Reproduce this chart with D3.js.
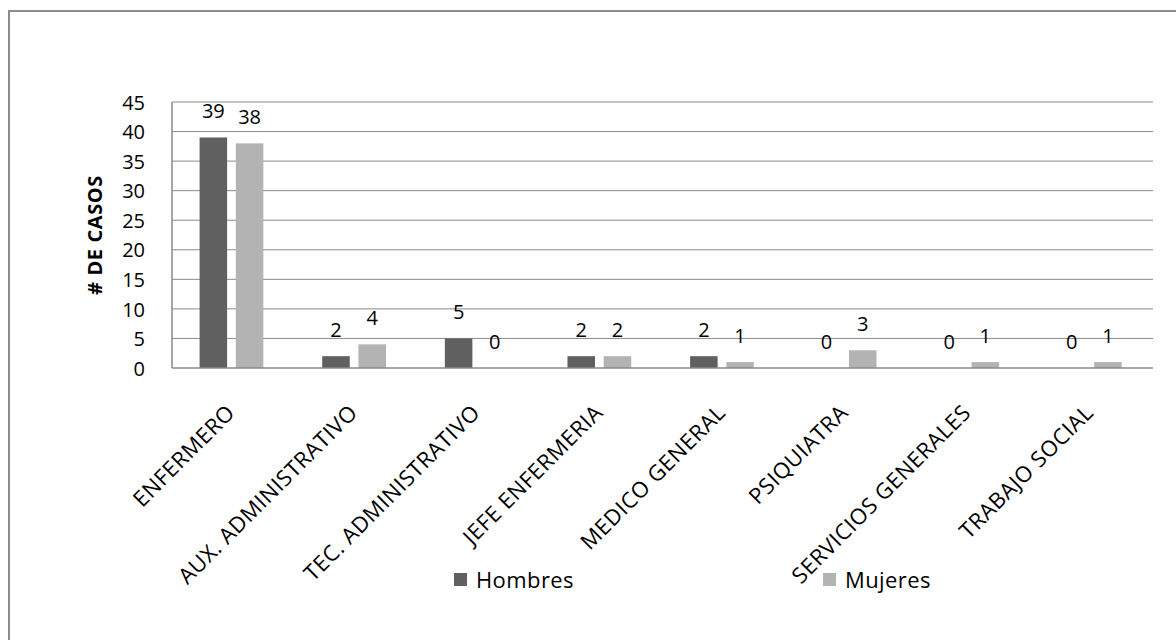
<!DOCTYPE html>
<html>
<head>
<meta charset="utf-8">
<script src="https://cdn.jsdelivr.net/npm/d3@7/dist/d3.min.js"></script>
<style>
  html, body { margin: 0; padding: 0; background: #fff; }
  svg { display: block; }
  text { font-family: "Open Sans", Lato, sans-serif; fill: #000; }
</style>
</head>
<body>
<svg id="chart" width="1176" height="640"></svg>
<script>
// Cargos del personal y número de casos por sexo
const categories = [
  "ENFERMERO",
  "AUX. ADMINISTRATIVO",
  "TEC. ADMINISTRATIVO",
  "JEFE ENFERMERIA",
  "MEDICO GENERAL",
  "PSIQUIATRA",
  "SERVICIOS GENERALES",
  "TRABAJO SOCIAL"
];
const hombres = [39, 2, 5, 2, 2, 0, 0, 0];
const mujeres = [38, 4, 0, 2, 1, 3, 1, 1];
const seriesNames = ["Hombres", "Mujeres"];
const seriesColors = ["#606060", "#b3b3b3"];
const yTicks = [0, 5, 10, 15, 20, 25, 30, 35, 40, 45];
const yTitle = "# DE CASOS";

const svg = d3.select("#chart");

// Marco exterior del gráfico
svg.append("rect")
  .attr("x", 9).attr("y", 11)
  .attr("width", 1200).attr("height", 700)
  .attr("fill", "#fff")
  .attr("stroke", "#8c8c8c")
  .attr("stroke-width", 2);

const plot = { left: 172, right: 1153, top: 102, bottom: 368 };

const x = d3.scaleBand()
  .domain(categories)
  .range([plot.left, plot.right])
  .paddingInner(0)
  .paddingOuter(0);

const y = d3.scaleLinear()
  .domain([0, 45])
  .range([plot.bottom, plot.top]);

// Posición de cada serie dentro de la categoría
const xSub = d3.scaleBand()
  .domain(seriesNames)
  .range([x.bandwidth() * 0.225, x.bandwidth() * 0.745])
  .paddingInner(0.24);

// Etiquetas del eje Y
const yAxis = d3.axisLeft(y).tickValues(yTicks).tickSize(0).tickPadding(27);
const gy = svg.append("g")
  .attr("transform", `translate(${plot.left},0)`)
  .call(yAxis);
gy.select(".domain").remove();
gy.selectAll("text")
  .style("font-size", "20px")
  .attr("dy", "0.36em");

// Líneas de cuadrícula
svg.append("g")
  .selectAll("line")
  .data(yTicks.filter(d => d > 0))
  .join("line")
  .attr("x1", plot.left).attr("x2", plot.right)
  .attr("y1", d => y(d)).attr("y2", d => y(d))
  .attr("stroke", "#8a8a8a")
  .attr("stroke-width", 1);

// Barras
const rows = categories.map((c, i) => ({ cat: c, values: [hombres[i], mujeres[i]] }));

const groups = svg.append("g")
  .selectAll("g")
  .data(rows)
  .join("g")
  .attr("transform", d => `translate(${x(d.cat)},0)`);

groups.selectAll("rect")
  .data(d => d.values.map((v, j) => ({ name: seriesNames[j], value: v, idx: j })))
  .join("rect")
  .attr("x", d => xSub(d.name))
  .attr("width", xSub.bandwidth())
  .attr("y", d => y(d.value))
  .attr("height", d => y(0) - y(d.value))
  .attr("fill", d => seriesColors[d.idx]);

// Etiquetas de valor
groups.selectAll("text.val")
  .data(d => d.values.map((v, j) => ({ name: seriesNames[j], value: v })))
  .join("text")
  .attr("class", "val")
  .attr("x", d => xSub(d.name) + xSub.bandwidth() / 2)
  .attr("y", d => y(d.value) - 19)
  .attr("text-anchor", "middle")
  .style("font-size", "20px")
  .text(d => d.value);

// Ejes
svg.append("line")
  .attr("x1", plot.left).attr("x2", plot.left)
  .attr("y1", plot.top).attr("y2", plot.bottom)
  .attr("stroke", "#8a8a8a").attr("stroke-width", 1.5);
svg.append("line")
  .attr("x1", plot.left).attr("x2", plot.right)
  .attr("y1", plot.bottom).attr("y2", plot.bottom)
  .attr("stroke", "#8a8a8a").attr("stroke-width", 1.5);

// Etiquetas de categoría giradas
const xAxis = d3.axisBottom(x).tickSize(0).tickPadding(0);
const gx = svg.append("g")
  .attr("transform", `translate(0,${plot.bottom})`)
  .call(xAxis);
gx.select(".domain").remove();
gx.selectAll("text")
  .style("font-size", "22px")
  .style("letter-spacing", "0.5px")
  .attr("text-anchor", "end")
  .attr("dy", null)
  .attr("y", 0)
  .attr("transform", "translate(3,46) rotate(-45)");

// Título del eje Y
svg.append("text")
  .attr("transform", `translate(102,${(plot.top + plot.bottom) / 2}) rotate(-90)`)
  .attr("text-anchor", "middle")
  .style("font-size", "20px")
  .style("letter-spacing", "0.6px")
  .style("font-weight", "bold")
  .text(yTitle);

// Leyenda
const legendPos = [454, 823];
const legend = svg.append("g")
  .selectAll("g")
  .data(seriesNames)
  .join("g")
  .attr("transform", (d, i) => `translate(${legendPos[i]},573)`);
legend.append("rect")
  .attr("width", 13).attr("height", 13)
  .attr("fill", (d, i) => seriesColors[i]);
legend.append("text")
  .attr("x", 22).attr("y", 15)
  .style("font-size", "22px")
  .style("letter-spacing", "0.4px")
  .text(d => d);
</script>
</body>
</html>
